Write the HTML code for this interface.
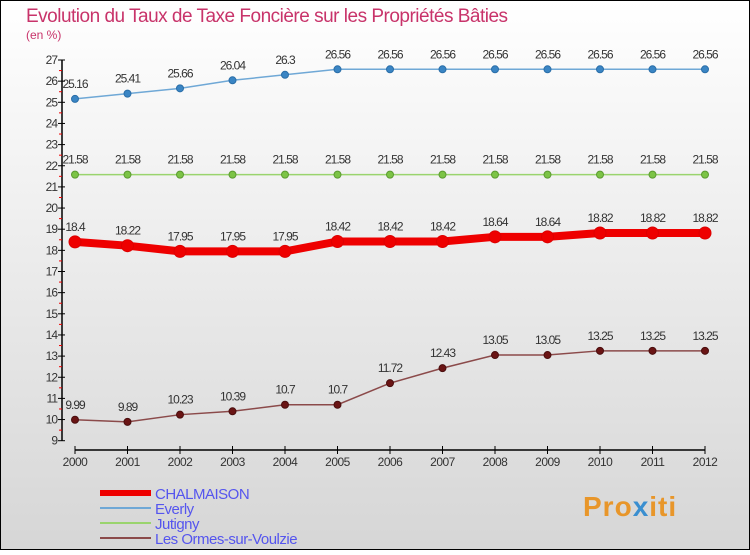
<!DOCTYPE html>
<html><head><meta charset="utf-8"><style>
html,body{margin:0;padding:0}
body{width:750px;height:550px;overflow:hidden;font-family:"Liberation Sans",sans-serif}
</style></head><body>
<svg id="chart" width="750" height="550" xmlns="http://www.w3.org/2000/svg">
<defs><linearGradient id="bg" x1="0" y1="0" x2="0" y2="1"><stop offset="0" stop-color="#ffffff"/><stop offset="1" stop-color="#d6d6d6"/></linearGradient></defs>
<rect x="0.5" y="0.5" width="749" height="549" fill="url(#bg)" stroke="#000"/>
<text x="26" y="22" font-size="19" fill="#c8336a" letter-spacing="-0.5">Evolution du Taux de Taxe Foncière sur les Propriétés Bâties</text>
<text x="26" y="39" font-size="12" fill="#c8336a">(en %)</text>
<g id="axes"></g><g id="series"></g><g id="legend"></g>
<text x="583" y="516" font-size="28" font-weight="bold" fill="#e8962a" letter-spacing="1">Pro<tspan fill="#3a8fd0">x</tspan>iti</text>
</svg>
<script>
const years=[2000,2001,2002,2003,2004,2005,2006,2007,2008,2009,2010,2011,2012];
const chalmaison=[18.4,18.22,17.95,17.95,17.95,18.42,18.42,18.42,18.64,18.64,18.82,18.82,18.82];
const everly=[25.16,25.41,25.66,26.04,26.3,26.56,26.56,26.56,26.56,26.56,26.56,26.56,26.56];
const jutigny=[21.58,21.58,21.58,21.58,21.58,21.58,21.58,21.58,21.58,21.58,21.58,21.58,21.58];
const ormes=[9.99,9.89,10.23,10.39,10.7,10.7,11.72,12.43,13.05,13.05,13.25,13.25,13.25];
const yTicks=[9,10,11,12,13,14,15,16,17,18,19,20,21,22,23,24,25,26,27];
const NS="http://www.w3.org/2000/svg";
const X=i=>75+i*52.5;
const Y=v=>60+(27-v)*21.15;
function mk(tag,attrs,parent){const e=document.createElementNS(NS,tag);for(const k in attrs)e.setAttribute(k,attrs[k]);parent.appendChild(e);return e;}
const ax=document.getElementById('axes');
let yl=mk('line',{x1:62,y1:Y(27),x2:62,y2:Y(9),stroke:'#000','stroke-width':1.5},ax);


yTicks.forEach(t=>{
  const l=mk('line',{x1:58,y1:Y(t),x2:65,y2:Y(t),stroke:'#000'},ax);
  
  
  if(t<27){const m=mk('line',{x1:59,y1:Y(t+0.5),x2:62,y2:Y(t+0.5),stroke:'#e00'},ax);
  
  }
  const tx=mk('text',{x:57,y:Y(t)+4,'font-size':12,'text-anchor':'end',fill:'#333','letter-spacing':'-1'},ax);
  tx.textContent=t;
  
  
});
let xl=mk('line',{x1:X(0),y1:450,x2:X(12),y2:450,stroke:'#000','stroke-width':1.5},ax);


years.forEach((yr,i)=>{
  const l=mk('line',{x1:X(i),y1:446,x2:X(i),y2:454,stroke:'#000'},ax);
  
  
  const tx=mk('text',{x:X(i),y:466,'font-size':12,'text-anchor':'middle',fill:'#333','letter-spacing':'-0.5'},ax);
  tx.textContent=yr;
  
  
});
const sg=document.getElementById('series');
function draw(name,vals,color,w,dot,dotFill,r){
  const g=mk('g',{},sg);
  
  
  const p=mk('polyline',{points:vals.map((v,i)=>X(i)+','+Y(v)).join(' '),fill:'none',stroke:color,'stroke-width':w},g);
  
  
  vals.forEach((v,i)=>{
    const c=mk('circle',{cx:X(i),cy:Y(v),r:r,fill:dotFill,stroke:dot,'stroke-width':1},g);
    
    
    const t=mk('text',{x:X(i),y:Y(v)-11,'font-size':12,'text-anchor':'middle',fill:'#333','letter-spacing':'-1'},g);
    t.textContent=v;
    
    
  });
}
draw('everly',everly,'#6fa8d6',1.5,'#2a6ea8','#3a85c4',3.5);
draw('jutigny',jutigny,'#9ad46e',1.5,'#5a9a30','#7cc445',3.5);
draw('chalmaison',chalmaison,'#ee0000',8,'#dd0000','#ee0000',6);
draw('ormes',ormes,'#8b4a4a',1.5,'#4a0e0e','#6a1414',3.5);
const lg=document.getElementById('legend');
const items=[['CHALMAISON','#ee0000',6],['Everly','#6fa8d6',2],['Jutigny','#9ad46e',2],['Les Ormes-sur-Voulzie','#8b4a4a',2]];
items.forEach((it,k)=>{
  const y=493+k*15;
  const l=mk('line',{x1:100,y1:y,x2:151,y2:y,stroke:it[1],'stroke-width':it[2]},lg);
  
  
  const t=mk('text',{x:155,y:y+6,'font-size':15,fill:'#5555ee','letter-spacing':'-0.5'},lg);
  t.textContent=it[0];
  
  
});
</script>
</body></html>
